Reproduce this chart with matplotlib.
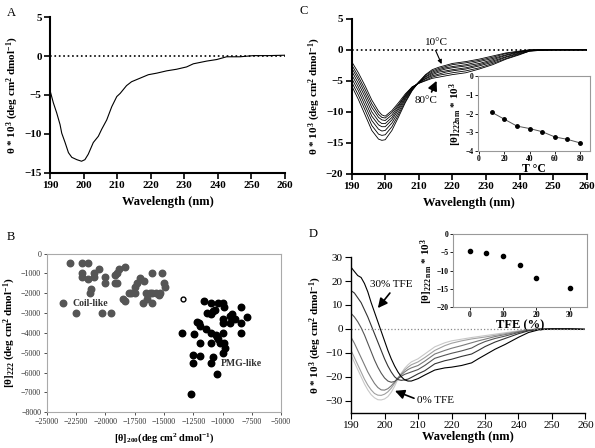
import matplotlib
matplotlib.use("Agg")
import matplotlib.pyplot as plt

plt.rcParams['font.family'] = ['Liberation Serif', 'DejaVu Serif']
plt.rcParams['mathtext.fontset'] = 'custom'
plt.rcParams['mathtext.rm'] = 'Liberation Serif'
plt.rcParams['mathtext.bf'] = 'Liberation Serif:bold'
plt.rcParams['mathtext.it'] = 'Liberation Serif:italic'

# ---- panel A: single CD spectrum ----
a_wl = [190, 191, 192, 193, 193.5, 194.5, 195.5, 196.5, 198, 199.4, 200.4, 201.4, 202.9,
        204.4, 205.4, 206.9, 208.4, 209.9, 210.9, 212.8, 214.3, 216.8, 219.3, 221.8,
        224.8, 227.7, 230.7, 232.7, 236.7, 239.7, 242.6, 246.6, 250.6, 255, 260]
a_theta = [-4.4, -6.0, -7.3, -8.8, -9.9, -11.1, -12.4, -13.0, -13.3, -13.5, -13.3, -12.6, -11.1,
           -10.3, -9.4, -8.2, -6.5, -5.2, -4.8, -3.8, -3.3, -2.85, -2.4, -2.2,
           -1.9, -1.7, -1.4, -1.0, -0.65, -0.45, -0.1, -0.1, 0.05, 0.05, 0.1]

# ---- panel B: [theta]200 vs [theta]222 ----
coil_x = [-23000, -22000, -21500, -22000, -22000, -21500, -21000, -21000, -20500, -20000,
          -20000, -21200, -21300, -19200, -19000, -19200, -19000, -18800, -18300, -18450,
          -18300, -18000, -17800, -17500, -17500, -17300, -17000, -16700, -16500, -16450,
          -16800, -16000, -16000, -16000, -15700, -15450, -15300, -15150, -15000, -14900,
          -23600, -22500, -20300, -19500, -16200]
coil_y = [-500, -500, -500, -1000, -1200, -1300, -1000, -1200, -800, -1200,
          -1500, -1800, -2000, -1100, -1000, -1500, -1500, -800, -700, -2300,
          -2400, -2000, -2000, -2000, -1700, -1500, -1250, -1400, -2000, -2300,
          -2500, -1000, -2000, -2500, -2000, -2100, -2000, -1000, -1500, -1700,
          -2500, -3000, -3000, -3000, -2000]
pmg_x = [-13500, -12400, -12500, -12500, -12650, -11600, -11000, -10350, -10000, -9900,
         -11350, -11000, -10800, -10650, -12150, -12000, -11900, -11450, -11950, -11950,
         -11000, -10550, -10450, -10350, -11000, -10200, -9850, -9750, -10000, -10800,
         -11000, -10450, -10000, -9950, -9400, -9350, -9200, -8900, -8450, -8450,
         -8450, -7950, -10000]
pmg_y = [-4000, -4070, -5100, -5500, -7100, -2400, -2500, -2500, -2500, -2700,
         -3000, -3050, -2900, -2870, -3450, -3500, -3650, -3800, -4500, -5150,
         -4000, -4100, -4200, -4300, -4500, -4500, -4500, -4750, -5000, -5200,
         -5500, -6100, -3300, -3500, -3500, -3150, -3050, -3300, -2700, -3500,
         -4000, -3200, -4000]
open_x = [-13400]
open_y = [-2300]

# ---- panel C: temperature series ----
c_wl = [190, 192, 194, 196, 198, 199, 200, 202, 204, 206, 208, 210, 212, 214, 216, 218,
        220, 224, 228, 232, 236, 240, 243, 246, 250, 255, 260]
c_10 = [-5.8, -8.0, -10.5, -13.0, -14.4, -14.6, -14.5, -13.0, -10.8, -8.5, -6.6, -5.2, -4.0,
        -3.2, -2.8, -2.5, -2.2, -1.9, -1.5, -1.0, -0.5, -0.2, 0.0, 0.0, 0.0, 0.0, 0.0]
c_20 = [-5.2, -7.3, -9.7, -12.2, -13.6, -13.8, -13.7, -12.4, -10.4, -8.3, -6.5, -5.2, -4.1,
        -3.4, -3.0, -2.7, -2.4, -2.1, -1.7, -1.2, -0.6, -0.3, 0.0, 0.0, 0.0, 0.0, 0.0]
c_30 = [-4.6, -6.6, -9.0, -11.4, -12.8, -13.1, -13.0, -11.8, -10.0, -8.0, -6.4, -5.2, -4.3,
        -3.6, -3.2, -2.9, -2.7, -2.4, -1.9, -1.4, -0.8, -0.3, -0.1, 0.0, 0.0, 0.0, 0.0]
c_40 = [-4.0, -6.0, -8.3, -10.7, -12.1, -12.4, -12.4, -11.3, -9.6, -7.8, -6.3, -5.3, -4.4,
        -3.8, -3.4, -3.1, -2.9, -2.6, -2.2, -1.6, -0.9, -0.4, -0.1, 0.0, 0.0, 0.0, 0.0]
c_50 = [-3.4, -5.4, -7.6, -10.0, -11.5, -11.9, -11.9, -10.9, -9.3, -7.6, -6.2, -5.3, -4.6,
        -4.0, -3.6, -3.4, -3.2, -2.9, -2.4, -1.8, -1.1, -0.5, -0.1, 0.0, 0.0, 0.0, 0.0]
c_60 = [-2.9, -4.8, -7.0, -9.3, -10.9, -11.3, -11.4, -10.5, -9.0, -7.4, -6.1, -5.3, -4.7,
        -4.2, -3.9, -3.6, -3.4, -3.1, -2.6, -2.0, -1.2, -0.6, -0.2, 0.0, 0.0, 0.0, 0.0]
c_70 = [-2.4, -4.3, -6.4, -8.7, -10.4, -10.9, -11.0, -10.1, -8.8, -7.3, -6.0, -5.4, -4.9,
        -4.4, -4.1, -3.9, -3.7, -3.4, -2.9, -2.2, -1.4, -0.7, -0.2, -0.1, 0.0, 0.0, 0.0]
c_80 = [-1.9, -3.7, -5.8, -8.1, -9.9, -10.5, -10.7, -9.8, -8.5, -7.1, -6.0, -5.4, -5.0,
        -4.6, -4.4, -4.2, -4.0, -3.7, -3.1, -2.4, -1.5, -0.8, -0.2, -0.1, 0.0, 0.0, 0.0]
temps = [10, 20, 30, 40, 50, 60, 70, 80]
theta222_T = [-1.93, -2.3, -2.67, -2.8, -2.97, -3.25, -3.38, -3.57]

# ---- panel D: TFE series ----
d_wl = [190, 191, 192, 193, 194, 195, 196, 197, 198, 199, 200, 201, 202, 203, 204, 205,
        206, 207, 208, 210, 212, 215, 218, 220, 223, 226, 228, 230, 233, 236, 240, 243,
        246, 250, 255, 260]
d_0 = [-11, -14, -17, -20, -23, -25.5, -27.5, -28.8, -29.6, -29.7, -29.3, -28.3, -26.5, -24,
       -21, -18.5, -16.5, -15, -13.8, -12.5, -10.5, -7.5, -5.8, -5, -4.3, -3.6, -3.2, -2.8,
       -2.2, -1.6, -0.8, -0.3, 0, 0, 0, -0.2]
d_5 = [-9, -12, -15, -18, -21, -23.5, -25.5, -27, -27.7, -27.8, -27.3, -26.3, -24.8, -22.8,
       -20.5, -18.8, -17.2, -16, -15, -13.8, -12, -9, -7, -6, -5, -4.2, -3.8, -3.4, -2.7, -2,
       -1, -0.4, 0, 0, 0, -0.2]
d_10 = [-3.5, -6, -9, -12, -15, -18, -20.5, -22.8, -24.5, -25.5, -25.6, -25, -23.8, -22.2,
        -20.5, -19.2, -18, -17, -16.3, -15.3, -13.5, -10.5, -9, -8.1, -7, -5.8, -5, -4.3,
        -3.2, -2.4, -1.2, -0.5, 0, 0, 0, -0.2]
d_15 = [6.5, 5, 3, 0.5, -2.5, -6, -9.5, -13, -16, -18.5, -20.5, -21.8, -22.3, -22, -20.8,
        -19.8, -19, -18.5, -18, -17, -15.3, -12.3, -11, -10.2, -9.2, -8, -6.5, -5.3, -4, -3,
        -1.5, -0.6, 0, 0, 0, -0.2]
d_20 = [16, 15, 13, 11, 8, 5, 1.5, -2, -5.5, -9, -12.5, -15.5, -18, -20, -21.2, -21.5,
        -21.3, -21, -20.3, -18.8, -17.5, -14.6, -13.3, -12.7, -11.5, -10.5, -9, -7.4, -5.5,
        -4, -2, -0.8, -0.2, 0, 0, -0.2]
d_30 = [25.8, 24, 22.3, 21.5, 19, 15.5, 11, 7, 3, -1, -5, -9, -12.5, -15.5, -18, -20,
        -21.3, -21.8, -21.8, -20.8, -19.3, -17.2, -16.3, -16, -15.3, -14.2, -12.5, -10.9,
        -8.5, -6.5, -3.5, -1.5, -0.4, 0, 0, -0.2]
tfe = [0, 5, 10, 15, 20, 30]
theta222_tfe = [-4.7, -5.3, -6.1, -8.45, -11.9, -14.8]

ylab = r'θ * 10$^{\mathbf{3}}$ (deg cm$^{\mathbf{2}}$ dmol$^{\mathbf{-1}}$)'

fig = plt.figure(figsize=(5.95, 4.48), dpi=100)


def cd_style(ax, lw=1.5, size=8):
    for s in ['top', 'right']:
        ax.spines[s].set_visible(False)
    for s in ['left', 'bottom']:
        ax.spines[s].set_linewidth(lw)
    ax.tick_params(direction='out', width=lw * 0.8, length=4, labelsize=size, pad=2)


def arrow(ax, tail, head, lw=1.2, head_size=14):
    ax.annotate('', xy=head, xytext=tail,
                arrowprops=dict(arrowstyle='-|>', color='k', lw=lw, mutation_scale=head_size,
                                shrinkA=0, shrinkB=0))


# A
axA = fig.add_axes([0.084, 0.614, 0.395, 0.348])
axA.plot(a_wl, a_theta, color='k', lw=0.8)
axA.axhline(0, color='k', ls=':', lw=1.2)
axA.set_xlim(190, 260)
axA.set_ylim(-15, 5)
axA.set_xticks(range(190, 261, 10))
axA.set_yticks([-15, -10, -5, 0, 5])
cd_style(axA)
for t in axA.get_xticklabels() + axA.get_yticklabels():
    t.set_fontweight('bold')
axA.set_xlabel('Wavelength (nm)', fontsize=9, fontweight='bold', labelpad=4)
axA.set_ylabel(ylab, fontsize=8, fontweight='bold', labelpad=2)
fig.text(0.012, 0.965, 'A', fontsize=9)

# C
axC = fig.add_axes([0.591, 0.612, 0.395, 0.346])
for curve in [c_10, c_20, c_30, c_40, c_50, c_60, c_70, c_80]:
    axC.plot(c_wl, curve, color='k', lw=0.6)
axC.axhline(0, color='k', ls=':', lw=1.2)
axC.set_xlim(190, 260)
axC.set_ylim(-20, 5)
axC.set_xticks(range(190, 261, 10))
axC.set_yticks([-20, -15, -10, -5, 0, 5])
cd_style(axC)
for t in axC.get_xticklabels() + axC.get_yticklabels():
    t.set_fontweight('bold')
axC.set_xlabel('Wavelength (nm)', fontsize=9, fontweight='bold', labelpad=4)
axC.set_ylabel(ylab, fontsize=8, fontweight='bold', labelpad=2)
axC.text(215.4, 1.1, '10°C', fontsize=8, ha='center', va='center')
arrow(axC, (215.0, -0.1), (216.8, -2.3), lw=0.8, head_size=6)
axC.text(212.1, -8.2, '80°C', fontsize=8, ha='center', va='center')
arrow(axC, (213.8, -6.8), (215.3, -5.0), lw=1.2, head_size=14)
fig.text(0.503, 0.968, 'C', fontsize=9)

axCi = fig.add_axes([0.803, 0.663, 0.189, 0.167])
axCi.plot(temps, theta222_T, color='#555555', lw=0.7, marker='o', ms=2.5, mfc='k', mec='k')
axCi.set_xlim(-1, 88)
axCi.set_ylim(-4, 0)
axCi.set_xticks([0, 20, 40, 60, 80])
axCi.set_yticks([-4, -3, -2, -1, 0])
for s in axCi.spines.values():
    s.set_color('#999999')
    s.set_linewidth(0.8)
axCi.tick_params(labelsize=5.5, length=2, width=0.6, pad=1)
for t in axCi.get_xticklabels() + axCi.get_yticklabels():
    t.set_fontweight('bold')
axCi.set_xlabel('T °C', fontsize=8.5, fontweight='bold', labelpad=0)
axCi.set_ylabel(r'[θ]$_{\mathbf{222nm}}$ * 10$^{\mathbf{3}}$', fontsize=8, fontweight='bold', labelpad=1)

# B
axB = fig.add_axes([0.0785, 0.080, 0.394, 0.354])
axB.scatter(coil_x, coil_y, s=22, color='#555555', zorder=3)
axB.scatter(pmg_x, pmg_y, s=22, color='k', zorder=3)
axB.scatter(open_x, open_y, s=12, facecolors='white', edgecolors='k', linewidths=1.0, zorder=3)
axB.text(-22800, -2500, 'Coil-like', fontsize=7, fontweight='bold', va='center', color='#333333')
axB.text(-10150, -5530, 'PMG-like', fontsize=7, fontweight='bold', va='center', color='#333333')
axB.set_xlim(-25000, -5000)
axB.set_ylim(-8000, 0)
axB.set_xticks(range(-25000, -4999, 2500))
axB.set_yticks(range(-8000, 1, 1000))
for s in axB.spines.values():
    s.set_color('#aaaaaa')
    s.set_linewidth(0.8)
axB.tick_params(labelsize=5.8, length=2, width=0.6, colors='#333333', pad=2)
axB.set_xlabel(r'[θ]$_{\mathbf{200}}$(deg cm$^{\mathbf{2}}$ dmol$^{\mathbf{-1}}$)', fontsize=7.5,
               fontweight='bold', labelpad=4)
axB.set_ylabel(r'[θ]$_{\mathbf{222}}$ (deg cm$^{\mathbf{2}}$ dmol$^{\mathbf{-1}}$)', fontsize=8,
               fontweight='bold', labelpad=2)
fig.text(0.012, 0.465, 'B', fontsize=9)

# D
axD = fig.add_axes([0.590, 0.079, 0.394, 0.347])
greys = ['#c8c8c8', '#a0a0a0', '#7a7a7a', '#555555', '#333333', '#000000']
for curve, col in zip([d_0, d_5, d_10, d_15, d_20, d_30], greys):
    axD.plot(d_wl, curve, color=col, lw=0.8)
axD.axhline(0, color='#888888', ls=':', lw=0.9)
axD.set_xlim(190, 260)
axD.set_ylim(-35, 30)
axD.set_xticks(range(190, 261, 10))
axD.set_yticks([-30, -20, -10, 0, 10, 20, 30])
cd_style(axD, lw=1.0, size=8)
axD.set_xlabel('Wavelength (nm)', fontsize=9, fontweight='bold', labelpad=1)
axD.set_ylabel(ylab, fontsize=8, fontweight='bold', labelpad=1)
axD.text(202.0, 18.4, '30% TFE', fontsize=8, ha='center', va='center')
arrow(axD, (201.6, 15.0), (198.0, 8.7))
axD.text(215.3, -30.1, '0% TFE', fontsize=8, ha='center', va='center')
arrow(axD, (208.8, -29.0), (203.1, -25.9))
fig.text(0.518, 0.470, 'D', fontsize=9)

axDi = fig.add_axes([0.761, 0.314, 0.225, 0.164])
axDi.scatter(tfe, theta222_tfe, s=9, color='k')
axDi.set_xlim(-5, 35)
axDi.set_ylim(-20, 0)
axDi.set_xticks([0, 10, 20, 30])
axDi.set_yticks([-20, -15, -10, -5, 0])
for s in axDi.spines.values():
    s.set_color('#999999')
    s.set_linewidth(0.8)
axDi.tick_params(labelsize=5.5, length=2, width=0.6, pad=1)
for t in axDi.get_xticklabels() + axDi.get_yticklabels():
    t.set_fontweight('bold')
axDi.set_xlabel('TFE (%)', fontsize=9, fontweight='bold', labelpad=0)
axDi.set_ylabel(r'[θ]$_{\mathbf{222\ nm}}$ * 10$^{\mathbf{3}}$', fontsize=8, fontweight='bold', labelpad=1)

fig.savefig('out.png', dpi=100)
